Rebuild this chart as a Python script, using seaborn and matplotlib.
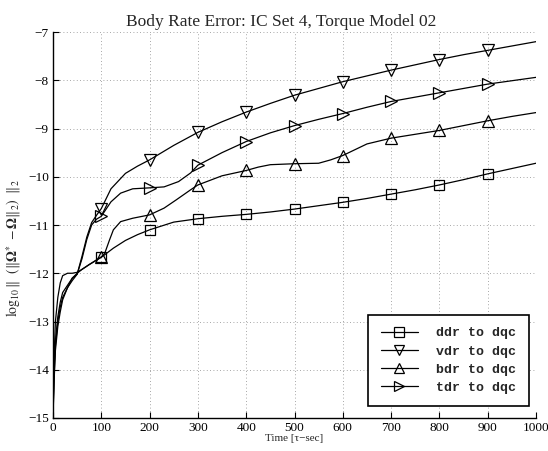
import numpy as np
import pandas as pd
import matplotlib
matplotlib.use("Agg")
import matplotlib.pyplot as plt
import seaborn as sns

# ---- data ----
ddr_x = [0, 2, 5, 10, 15, 20, 30, 40, 50, 60, 75, 100, 125, 150, 175, 200, 250, 300,
         350, 400, 450, 500, 550, 600, 650, 700, 750, 800, 850, 900, 950, 1000]
ddr_y = [-15, -13.8, -13.0, -12.5, -12.2, -12.05, -12.0, -12.0, -11.98, -11.92, -11.82,
         -11.67, -11.48, -11.32, -11.2, -11.1, -10.94, -10.87, -10.82, -10.78, -10.73,
         -10.67, -10.6, -10.53, -10.45, -10.36, -10.27, -10.17, -10.06, -9.94, -9.83, -9.72]

vdr_x = [0, 2, 5, 10, 15, 20, 30, 40, 50, 60, 70, 80, 90, 100, 120, 150, 175, 200, 250,
         300, 350, 400, 450, 500, 550, 600, 650, 700, 750, 800, 850, 900, 950, 1000]
vdr_y = [-15, -14.2, -13.5, -13.0, -12.7, -12.5, -12.3, -12.15, -12.02, -11.65, -11.25,
         -10.95, -10.8, -10.66, -10.25, -9.93, -9.78, -9.65, -9.35, -9.08, -8.86, -8.66,
         -8.48, -8.31, -8.17, -8.03, -7.91, -7.79, -7.68, -7.57, -7.47, -7.38, -7.29, -7.2]

bdr_x = [0, 2, 5, 10, 15, 20, 30, 40, 50, 60, 75, 100, 107, 117, 125, 140, 165, 200, 230,
         255, 285, 300, 350, 400, 425, 450, 500, 550, 575, 600, 650, 700, 750, 800, 850,
         900, 950, 1000]
bdr_y = [-15, -14.3, -13.6, -13.1, -12.8, -12.55, -12.3, -12.1, -12.0, -11.92, -11.82,
         -11.66, -11.59, -11.31, -11.1, -10.93, -10.86, -10.79, -10.65, -10.48, -10.27,
         -10.17, -9.98, -9.87, -9.8, -9.75, -9.73, -9.72, -9.65, -9.56, -9.32, -9.2, -9.12,
         -9.04, -8.94, -8.84, -8.75, -8.67]

tdr_x = [0, 2, 5, 10, 15, 20, 30, 40, 50, 60, 70, 80, 90, 100, 120, 140, 165, 200, 230,
         260, 285, 300, 350, 400, 450, 500, 550, 600, 650, 700, 750, 800, 850, 900, 950, 1000]
tdr_y = [-15, -14.0, -13.4, -12.9, -12.6, -12.4, -12.25, -12.1, -12.02, -11.7, -11.3,
         -11.0, -10.88, -10.82, -10.52, -10.34, -10.25, -10.23, -10.21, -10.1, -9.92, -9.76,
         -9.5, -9.27, -9.09, -8.94, -8.81, -8.69, -8.56, -8.44, -8.35, -8.26, -8.17, -8.08,
         -8.01, -7.94]

labels = ["ddr to dqc", "vdr to dqc", "bdr to dqc", "tdr to dqc"]
marker_x = [100, 200, 300, 400, 500, 600, 700, 800, 900]
x_ticks = [0, 100, 200, 300, 400, 500, 600, 700, 800, 900, 1000]
y_ticks = [-15, -14, -13, -12, -11, -10, -9, -8, -7]

series = [(ddr_x, ddr_y, "s", 6.5), (vdr_x, vdr_y, "v", 8.5),
          (bdr_x, bdr_y, "^", 8.5), (tdr_x, tdr_y, ">", 8.5)]

sns.set_theme(style="white")
plt.rcParams["font.family"] = ["Liberation Serif", "DejaVu Serif"]
plt.rcParams["mathtext.fontset"] = "stix"

fig = plt.figure(figsize=(5.48, 4.51), dpi=100)
ax = fig.add_axes([53 / 548, 1 - 418 / 451, (536 - 53) / 548, (418 - 32) / 451])

for (xs, ys, mk, ms), lab in zip(series, labels):
    df = pd.DataFrame({"x": xs, "y": ys})
    idx = [i for i, v in enumerate(xs) if v in marker_x]
    sns.lineplot(data=df, x="x", y="y", ax=ax, color="black", linewidth=0.9,
                 marker=mk, markersize=ms, markerfacecolor="none",
                 markeredgecolor="black", markeredgewidth=0.9,
                 markevery=idx, label=lab, sort=False, estimator=None)

ax.set_xlim(0, 1000)
ax.set_ylim(-15, -7)
ax.set_xticks(x_ticks)
ax.set_yticks(y_ticks)
ax.grid(True, linestyle=(0, (1, 3)), color="#8a8a8a", linewidth=0.6)
for s in ["top", "right"]:
    ax.spines[s].set_visible(False)
for s in ["left", "bottom"]:
    ax.spines[s].set_color("black")
    ax.spines[s].set_linewidth(1.0)
ax.tick_params(direction="in", length=4, width=0.8, colors="black",
               labelsize=9.5, left=True, bottom=True, pad=3)
for t in ax.get_xticklabels() + ax.get_yticklabels():
    t.set_family("Liberation Serif")

ax.set_title("Body Rate Error: IC Set 4, Torque Model 02", fontsize=12.5, pad=4, x=0.472)
ax.set_xlabel("Time [τ−sec]", fontsize=8, labelpad=0)
ax.set_ylabel(r"$\log_{10}\|\ \ (\|\mathbf{\Omega}^{*}\ -\mathbf{\Omega}\|_2)\ \ \|_2$",
              fontsize=10, labelpad=2)
ax.yaxis.set_label_coords(-0.062, 0.44)

leg = ax.legend(loc="lower right", bbox_to_anchor=(0.985, 0.03),
                prop={"family": "Liberation Mono", "weight": "bold", "size": 9.5},
                frameon=True, fancybox=False, edgecolor="black", framealpha=1,
                handlelength=2.8, handletextpad=1.4, borderpad=0.95, labelspacing=0.45,
                borderaxespad=0)
leg.get_frame().set_linewidth(1.2)
for h in leg.legend_handles:
    h.set_markersize(7)

fig.savefig("out.png", dpi=100)
